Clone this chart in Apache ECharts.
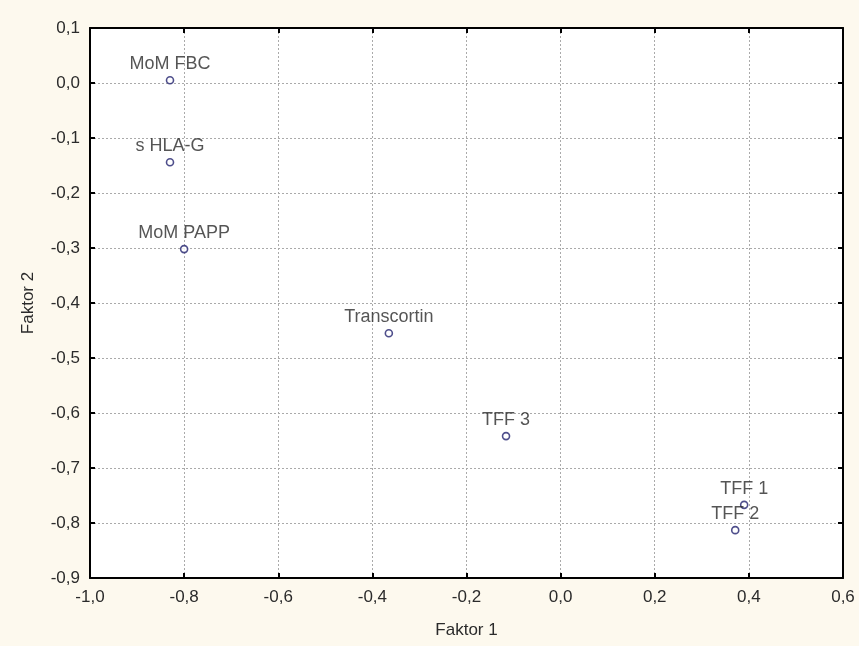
<!DOCTYPE html>
<html>
<head>
<meta charset="utf-8">
<script src="https://cdn.jsdelivr.net/npm/echarts@6/dist/echarts.min.js"></script>
<style>
  html, body { margin: 0; padding: 0; background: #fdf9ee; }
  #chart { width: 859px; height: 646px; }
</style>
</head>
<body>
<div id="chart"></div>
<script>
// Factor loadings: variable names with their Faktor 1 / Faktor 2 coordinates
const names    = ['MoM FBC', 's HLA-G', 'MoM PAPP', 'Transcortin', 'TFF 3', 'TFF 1', 'TFF 2'];
const faktor1  = [-0.830, -0.830, -0.800, -0.365, -0.116, 0.390, 0.371];
const faktor2  = [0.005, -0.144, -0.302, -0.455, -0.642, -0.767, -0.813];

const fmt = v => v.toFixed(1).replace('.', ',');
const font = 'Liberation Sans, Arial, sans-serif';
const textColor = '#2b2b2b';

const chart = echarts.init(document.getElementById('chart'));

const xBase = {
  type: 'value', min: -1.0, max: 0.6, interval: 0.2,
  axisLine: { show: true, onZero: false, lineStyle: { color: '#000', width: 2 } },
  axisTick: { show: true, inside: true, length: 5, lineStyle: { color: '#000', width: 2 } },
  splitLine: { show: false }
};
const yBase = {
  type: 'value', min: -0.9, max: 0.1, interval: 0.1,
  axisLine: { show: true, onZero: false, lineStyle: { color: '#000', width: 2 } },
  axisTick: { show: true, inside: true, length: 5, lineStyle: { color: '#000', width: 2 } },
  splitLine: { show: false }
};

chart.setOption({
  backgroundColor: '#fdf9ee',
  animation: false,
  grid: { left: 90, right: 16, top: 28, bottom: 68, show: true, backgroundColor: '#ffffff', borderWidth: 0 },
  xAxis: [
    Object.assign({}, xBase, {
      position: 'bottom',
      name: 'Faktor 1', nameLocation: 'middle', nameGap: 44,
      nameTextStyle: { color: textColor, fontSize: 17, fontFamily: font },
      axisLabel: { color: textColor, fontSize: 17, fontFamily: font, margin: 11, formatter: fmt },
      splitLine: { show: true, lineStyle: { color: '#aaa', type: [2, 2], width: 1 } }
    }),
    Object.assign({}, xBase, { position: 'top', axisLabel: { show: false } })
  ],
  yAxis: [
    Object.assign({}, yBase, {
      position: 'left',
      name: 'Faktor 2', nameLocation: 'middle', nameGap: 53,
      nameTextStyle: { color: textColor, fontSize: 17, fontFamily: font },
      axisLabel: { color: textColor, fontSize: 17, fontFamily: font, margin: 10, formatter: fmt },
      splitLine: { show: true, lineStyle: { color: '#aaa', type: [2, 2], width: 1 } }
    }),
    Object.assign({}, yBase, { position: 'right', axisLabel: { show: false } })
  ],
  series: [{
    type: 'scatter',
    xAxisIndex: 0, yAxisIndex: 0,
    symbol: 'circle', symbolSize: 7,
    itemStyle: { color: '#ffffff', borderColor: '#22226e', borderWidth: 1.6 },
    label: {
      show: true, position: 'top', distance: 3,
      color: textColor, fontSize: 18, fontFamily: font,
      formatter: p => p.data.name
    },
    data: names.map((n, i) => ({ name: n, value: [faktor1[i], faktor2[i]] }))
  }]
});
</script>
</body>
</html>
